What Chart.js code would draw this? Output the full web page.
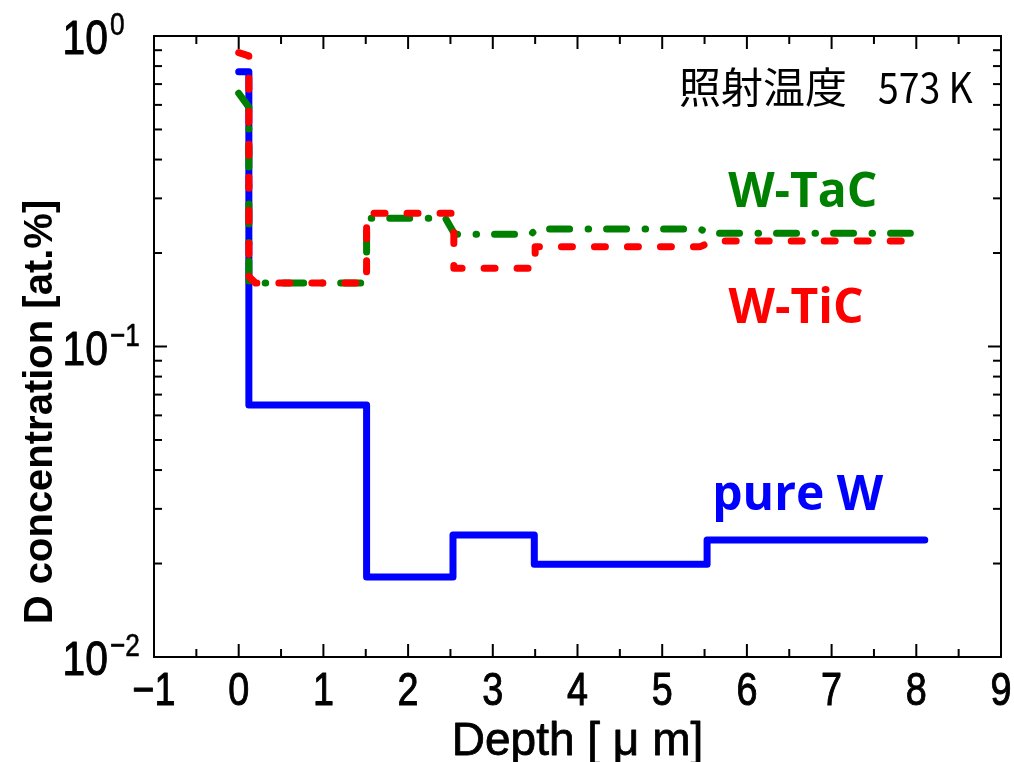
<!DOCTYPE html>
<html><head><meta charset="utf-8">
<script src="https://cdn.jsdelivr.net/npm/chart.js@4/dist/chart.umd.min.js"></script>
<style>html,body{margin:0;padding:0;background:#fff;}#wrap{width:1014px;height:762px;}</style>
</head><body><div id="wrap"><canvas id="c" width="1014" height="762"></canvas></div>
<script>
// ---- data ----
const xTickValues = [-1, 0, 1, 2, 3, 4, 5, 6, 7, 8, 9];
const yDecades = [1, 0.1, 0.01];
const yDecadeExp = ['0', '\u22121', '\u22122'];

const pureW_depth = [0, 0.12, 0.12, 1.51, 1.51, 2.53, 2.53, 3.49, 3.49, 5.53, 5.53, 8.10];
const pureW_conc  = [0.767, 0.767, 0.0648, 0.0648, 0.0181, 0.0181, 0.0247, 0.0247, 0.0199, 0.0199, 0.0238, 0.0238];

const WTaC_depth = [0, 0.12, 0.12, 1.51, 1.51, 2.44, 2.55, 3.45, 3.52, 5.45, 5.55, 7.93];
const WTaC_conc  = [0.654, 0.59, 0.16, 0.16, 0.259, 0.259, 0.23, 0.23, 0.239, 0.239, 0.2314, 0.2314];

const WTiC_depth = [0, 0.12, 0.12, 0.20, 1.51, 1.51, 2.54, 2.54, 3.50, 3.50, 5.45, 5.60, 7.93];
const WTiC_conc  = [0.884, 0.863, 0.168, 0.16, 0.16, 0.2685, 0.2685, 0.1786, 0.1786, 0.2097, 0.2097, 0.2187, 0.2187];

const seriesNames = ['pure W', 'W-TaC', 'W-TiC'];
const xTitle = 'Depth [ \u03bc m]';
const yTitle = 'D concentration [at.%]';
const condLabelJa = '照射温度';
const condLabelT = '573 K';

const SANS = '"Liberation Sans", Arial, sans-serif';
const toPts = (xs, ys) => xs.map((x, i) => ({x: x, y: ys[i]}));

// text squeezed horizontally (Arial-Narrow-like when sx≈0.82); optional stroke for heavier weight
function squeezedText(ctx, text, x, y, font, align, baseline, sx, sw) {
  ctx.save();
  ctx.font = font;
  ctx.textAlign = align; ctx.textBaseline = baseline;
  ctx.translate(x, y); ctx.scale(sx, 1);
  ctx.fillText(text, 0, 0);
  if (sw) { ctx.lineWidth = sw; ctx.strokeStyle = ctx.fillStyle; ctx.lineJoin = 'round'; ctx.strokeText(text, 0, 0); }
  ctx.restore();
}

const frame = {
  id: 'frame',
  afterDraw(chart) {
    const ctx = chart.ctx, ca = chart.chartArea, xs = chart.scales.x, ys = chart.scales.y;
    ctx.save();
    ctx.strokeStyle = '#000'; ctx.lineWidth = 2;
    ctx.strokeRect(ca.left, ca.top, ca.right - ca.left, ca.bottom - ca.top);
    const seg = (x1, y1, x2, y2) => { ctx.beginPath(); ctx.moveTo(x1, y1); ctx.lineTo(x2, y2); ctx.stroke(); };
    for (let v = xTickValues[0]; v <= xTickValues[xTickValues.length - 1]; v += 0.5) {
      const px = xs.getPixelForValue(v);
      const L = Number.isInteger(v) ? 13 : 8;
      seg(px, ca.bottom, px, ca.bottom - L);
      seg(px, ca.top, px, ca.top + L);
    }
    [0.01, 0.1].forEach(d => {
      for (let m = 1; m <= 9; m++) {
        const py = ys.getPixelForValue(d * m);
        const L = m === 1 ? 13 : 8;
        seg(ca.left, py, ca.left + L, py);
        seg(ca.right, py, ca.right - L, py);
      }
    });
    ctx.fillStyle = '#000';
    // x tick labels
    xTickValues.forEach(v => {
      const px = xs.getPixelForValue(v);
      squeezedText(ctx, String(v).replace('-', '\u2212'), px, 705, '46px ' + SANS, 'center', 'alphabetic', 0.82, 1);
    });
    // y tick labels 10^n
    yDecades.forEach((v, i) => {
      const py = ys.getPixelForValue(v);
      squeezedText(ctx, '10', 108, py + 18, '48px ' + SANS, 'right', 'alphabetic', 0.85, 1);
      squeezedText(ctx, yDecadeExp[i], 110, py - 1, '32px ' + SANS, 'left', 'alphabetic', 0.82, 0.6);
    });
    // axis titles
    squeezedText(ctx, xTitle, (ca.left + ca.right) / 2, 755, '46px ' + SANS, 'center', 'alphabetic', 1, 0.8);
    ctx.save();
    ctx.translate(52, 412); ctx.rotate(-Math.PI / 2);
    ctx.font = 'bold 40px ' + SANS;
    ctx.textAlign = 'center'; ctx.textBaseline = 'alphabetic';
    ctx.fillText(yTitle, 0, 0);
    ctx.restore();
    // annotations
    ctx.textAlign = 'center'; ctx.textBaseline = 'alphabetic';
    ctx.font = 'bold 48px "Open Sans", sans-serif';
    ctx.fillStyle = '#008000'; ctx.fillText(seriesNames[1], xs.getPixelForValue(6.66), 207);
    ctx.fillStyle = '#ff0000'; ctx.fillText(seriesNames[2], xs.getPixelForValue(6.58), 323);
    ctx.fillStyle = '#0000ff'; ctx.fillText(seriesNames[0], xs.getPixelForValue(6.6), 510);
    ctx.fillStyle = '#000';
    ctx.font = '42px "Noto Sans CJK JP", sans-serif'; ctx.textAlign = 'left';
    ctx.fillText(condLabelJa, 679, 103);
    squeezedText(ctx, condLabelT, 878, 103, '42px "Noto Sans CJK JP", sans-serif', 'left', 'alphabetic', 0.89, 0);
    ctx.restore();
  }
};

const common = { pointRadius: 0, borderWidth: 7, tension: 0, fill: false, borderCapStyle: 'round', borderJoinStyle: 'round' };

new Chart(document.getElementById('c'), {
  type: 'line',
  data: {
    datasets: [
      Object.assign({ label: seriesNames[0], data: toPts(pureW_depth, pureW_conc), borderColor: '#0000ff', order: 3 }, common),
      Object.assign({ label: seriesNames[1], data: toPts(WTaC_depth, WTaC_conc), borderColor: '#008000', borderDash: [20, 18.5, 0.5, 18], order: 2 }, common),
      Object.assign({ label: seriesNames[2], data: toPts(WTiC_depth, WTiC_conc), borderColor: '#ff0000', borderDash: [11, 22], order: 1 }, common)
    ]
  },
  options: {
    responsive: false, animation: false, events: [],
    layout: { padding: { top: 36, right: 13, left: 0, bottom: 0 } },
    plugins: { legend: { display: false }, tooltip: { enabled: false } },
    scales: {
      x: {
        type: 'linear', min: -1, max: 9,
        afterBuildTicks: s => { s.ticks = xTickValues.map(v => ({ value: v })); },
        ticks: { display: false },
        grid: { display: false, drawTicks: false },
        border: { display: false },
        afterFit: s => { s.height = 105; }
      },
      y: {
        type: 'logarithmic', min: 0.01, max: 1,
        ticks: { display: false },
        grid: { display: false, drawTicks: false },
        border: { display: false },
        afterFit: s => { s.width = 154; }
      }
    }
  },
  plugins: [frame]
});
</script></body></html>
